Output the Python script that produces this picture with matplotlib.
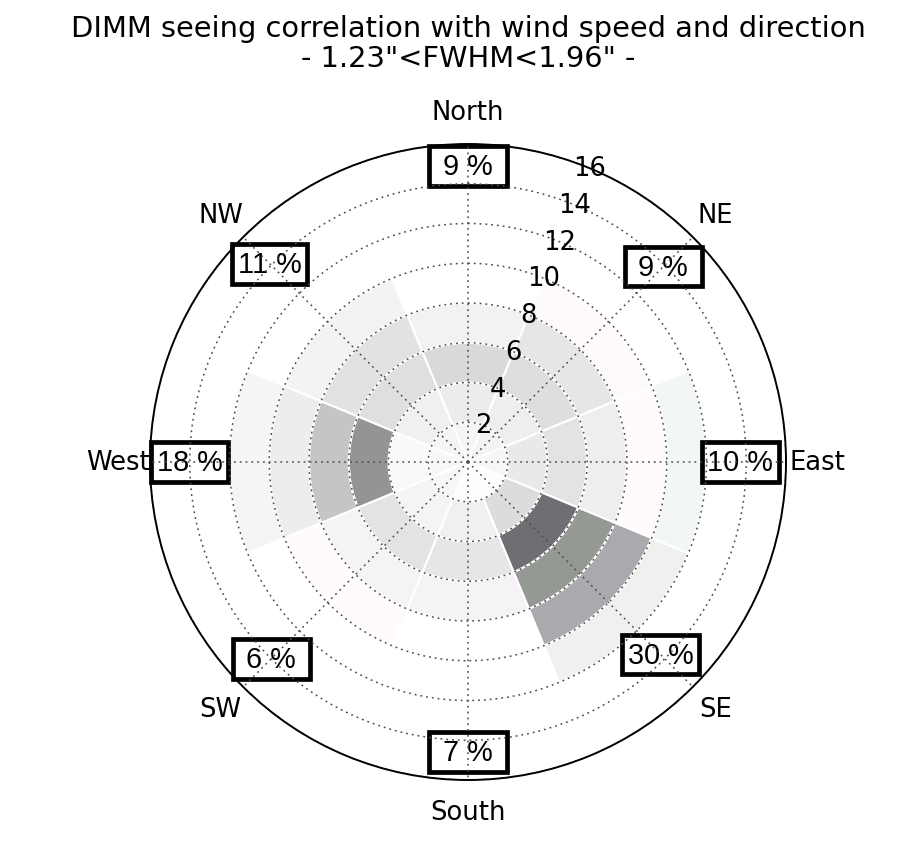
import numpy as np
import matplotlib
matplotlib.use("Agg")
import matplotlib.pyplot as plt

# ---------------- data ----------------
directions = ["North", "NE", "East", "SE", "South", "SW", "West", "NW"]
dir_angles_deg = [0, 45, 90, 135, 180, 225, 270, 315]
percent = [9, 9, 10, 30, 7, 6, 18, 11]
speed_edges = [0, 2, 4, 6, 8, 10, 12]
r_ticks = [2, 4, 6, 8, 10, 12, 14, 16]
r_max = 16

# cell shading per direction (rows) and speed bin (cols: 0-2 ... 10-12)
cell_colors = [
    ["#f5f5f5", "#ececec", "#d9d9d9", "#f4f1f4", None, None],          # North
    ["#f3f3f3", "#eeeeee", "#dedede", "#e6e6e6", "#fdf9fd", None],     # NE
    ["#f6f6f6", "#e9e9e9", "#e1e4e1", "#eeeeee", "#fefafe", "#f3f7f3"],  # East
    ["#fdfdfd", "#dcdcdc", "#706e73", "#949994", "#aba9ad", "#eef1ee"],  # SE
    ["#fefcfe", "#eef1ee", "#e6e6e6", "#f6f3f6", None, None],          # South
    ["#f7f7f7", "#f4f4f4", "#e5e2e5", "#f4f4f4", "#fefafe", None],     # SW
    ["#f7f7f7", "#f9f9f9", "#939593", "#c5c4c6", "#ededed", "#f5f5f5"],  # West
    ["#f5f5f5", "#eef1ee", "#dfdfdf", "#e0e3e0", "#f5f2f5", None],     # NW
]

title = 'DIMM seeing correlation with wind speed and direction\n- 1.23"<FWHM<1.96" -'

# ---------------- figure ----------------
W, H = 897, 854
fig = plt.figure(figsize=(W / 100, H / 100), dpi=100)
cx, cy, R = 468, 463, 318
ax = fig.add_axes([(cx - R) / W, (H - cy - R) / H, 2 * R / W, 2 * R / H],
                  projection="polar")
ax.set_theta_zero_location("N")
ax.set_theta_direction(-1)

theta = np.deg2rad(dir_angles_deg)
width = 2 * np.pi / len(directions)
for i, th in enumerate(theta):
    for j in range(len(speed_edges) - 1):
        c = cell_colors[i][j]
        if c is None:
            continue
        ax.bar(th, speed_edges[j + 1] - speed_edges[j], width=width,
               bottom=speed_edges[j], color=c, edgecolor="white",
               linewidth=1.5, align="center", zorder=1)

ax.set_ylim(0, r_max)
ax.set_yticks(r_ticks)
ax.set_yticklabels([])
ax.set_xticks(theta)
ax.set_xticklabels([])
grid_style = dict(color="0.3", linestyle=(0, (1.2, 2.6)), linewidth=1.1)
ax.yaxis.grid(True, **grid_style)
ax.xaxis.grid(True, **grid_style)
ax.spines["polar"].set_linewidth(1.4)
ax.spines["polar"].set_color("black")
ax.tick_params(length=0)

# radial labels
for r in r_ticks:
    ax.text(np.deg2rad(22.5), r, str(r), ha="center", va="center",
            fontsize=18.6, family="DejaVu Sans", zorder=5, clip_on=False)

# direction labels
for th, name in zip(theta, directions):
    ax.text(th, 1.1 * r_max, name, ha="center", va="center",
            fontsize=18.6, family="DejaVu Sans", clip_on=False)

# percentage boxes
box_r = [14.9, 13.9, 13.7, 13.7, 14.6, 14.0, 14.0, 14.1]
for th, p, br in zip(theta, percent, box_r):
    s = f"{p} %" if p >= 10 else f" {p} % "
    ax.text(th, br, s, ha="center", va="center", fontsize=20.8,
            family="Liberation Sans", zorder=1.2, clip_on=False,
            bbox=dict(boxstyle="square,pad=0.2", facecolor="white",
                      edgecolor="black", linewidth=3.4))

fig.text(cx / W, 1 - 44 / H, title, ha="center", va="center",
         fontsize=20.8, family="DejaVu Sans", linespacing=1.1)

fig.savefig("out.png", dpi=100)
